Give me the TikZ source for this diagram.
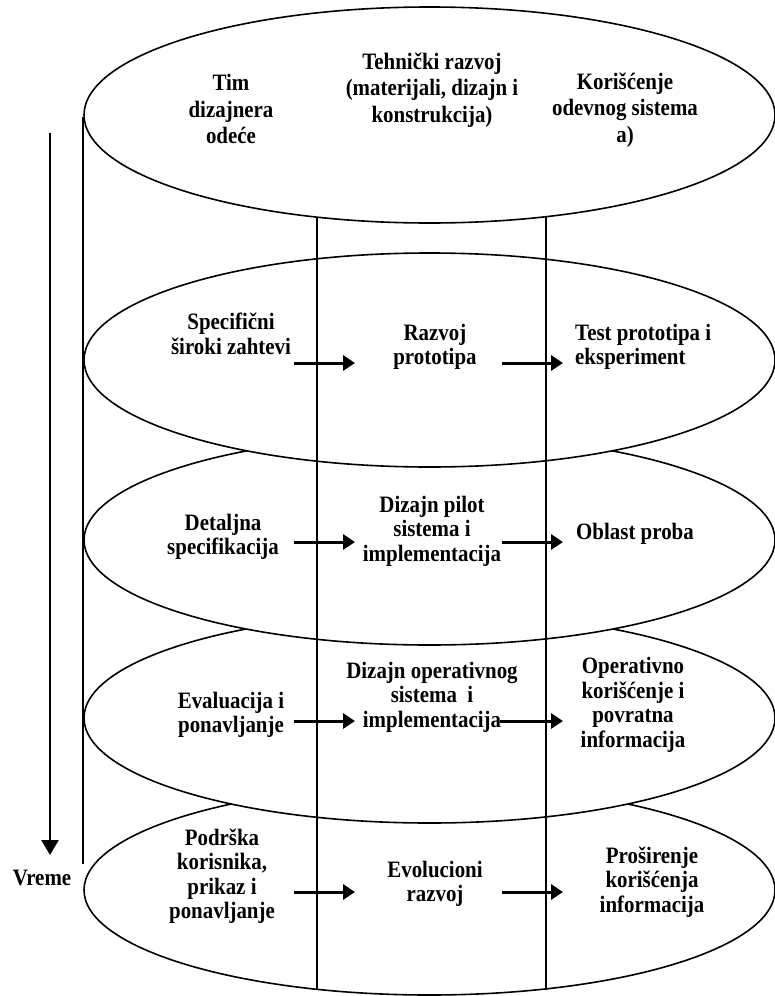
\documentclass[tikz,border=0pt]{standalone}
\usepackage{fontspec}
\setmainfont{Liberation Serif}[FakeStretch=0.89]
\usetikzlibrary{arrows.meta}
\begin{document}
\begin{tikzpicture}[x=1pt,y=-1pt,
  lbl/.style={font=\fontsize{23.5}{24.5}\selectfont\bfseries, align=center, inner sep=0pt},
  toplbl/.style={lbl, font=\fontsize{23.5}{26.5}\selectfont\bfseries},
  ell/.style={draw, line width=1.6pt, fill=white},
  col/.style={line width=1.3pt},
  flow/.style={line width=3pt, -{Triangle[length=12pt,width=15pt]}},
  timearrow/.style={line width=2.6pt, -{Triangle[length=15pt,width=17pt]}}]
\useasboundingbox (0,0) rectangle (775,996);
% layer ellipses (lower ones first, upper ones on top)
\draw[ell] (429.5,890) ellipse [x radius=345.5, y radius=105];
\draw[ell] (429.5,718) ellipse [x radius=345.5, y radius=105];
\draw[ell] (429.5,540) ellipse [x radius=345.5, y radius=105];
\draw[ell] (429.5,360) ellipse [x radius=345.5, y radius=107];
% column lines
\coordinate (c1t) at (317,217);
\coordinate (c1b) at (317,989.5);
\coordinate (c2t) at (546,217);
\coordinate (c2b) at (546,989.5);
\draw[col] (c1t) -- (c1b);
\draw[col] (c2t) -- (c2b);
% top ellipse
\draw[ell] (429.5,115) ellipse [x radius=345.5, y radius=108];
% left side line and time arrow
\coordinate (lt) at (83,117);
\coordinate (lb) at (83,864);
\draw[line width=1.5pt] (lt) -- (lb);
\coordinate (tt) at (50,133);
\coordinate (tb) at (50,855);
\draw[timearrow] (tt) -- (tb);
\node[lbl] (vreme) at (42,878) {Vreme};
% top labels
\node[toplbl] (tim) at (231,109) {Tim\\dizajnera\\odeće};
\node[toplbl] (teh) at (432,90) {Tehnički razvoj\\(materijali, dizajn i\\konstrukcija)};
\node[toplbl] (kor) at (625,110) {Korišćenje\\odevnog sistema\\a)};
% level 2
\node[lbl] (spec) at (231,334) {Specifični\\široki zahtevi};
\node[lbl] (razv) at (435,347) {Razvoj\\prototipa};
\node[lbl, align=left, anchor=west] (test) at (575,347) {Test prototipa i\\eksperiment};
\coordinate (a21s) at (294,363);
\coordinate (a21e) at (355,363);
\coordinate (a22s) at (502,363);
\coordinate (a22e) at (563,363);
\draw[flow] (a21s) -- (a21e);
\draw[flow] (a22s) -- (a22e);
% level 3
\node[lbl] (det) at (223,537) {Detaljna\\specifikacija};
\node[lbl] (pilot) at (432,531) {Dizajn pilot\\sistema i\\implementacija};
\node[lbl] (obl) at (635,534) {Oblast proba};
\coordinate (a31s) at (294,542);
\coordinate (a31e) at (355,542);
\coordinate (a32s) at (502,542);
\coordinate (a32e) at (563,542);
\draw[flow] (a31s) -- (a31e);
\draw[flow] (a32s) -- (a32e);
% level 4
\node[lbl] (eval) at (231,715) {Evaluacija i\\ponavljanje};
\node[lbl] (oper) at (432,697) {Dizajn operativnog\\sistema~ i\\implementacija};
\node[lbl] (kori) at (633,705) {Operativno\\korišćenje i\\povratna\\informacija};
\coordinate (a41s) at (294,721);
\coordinate (a41e) at (355,721);
\coordinate (a42s) at (500,721);
\coordinate (a42e) at (563,721);
\draw[flow] (a41s) -- (a41e);
\draw[flow] (a42s) -- (a42e);
% level 5
\node[lbl] (podr) at (222,876) {Podrška\\korisnika,\\prikaz i\\ponavljanje};
\node[lbl] (evo) at (435,884) {Evolucioni\\razvoj};
\node[lbl] (pros) at (652,882) {Proširenje\\korišćenja\\informacija};
\coordinate (a51s) at (294,892);
\coordinate (a51e) at (355,892);
\coordinate (a52s) at (502,892);
\coordinate (a52e) at (563,892);
\draw[flow] (a51s) -- (a51e);
\draw[flow] (a52s) -- (a52e);
\end{tikzpicture}
\end{document}
